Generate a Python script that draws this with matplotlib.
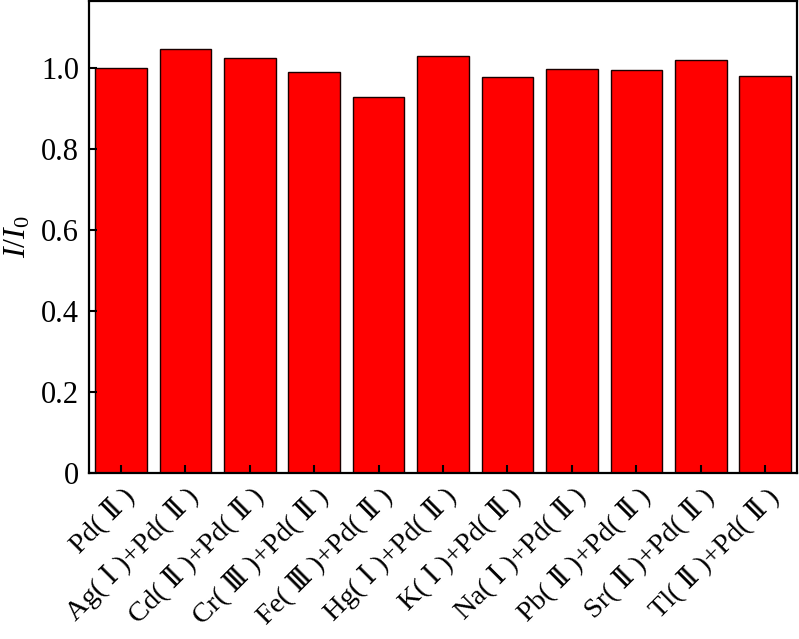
import matplotlib
matplotlib.use("Agg")
import matplotlib.pyplot as plt

labels = ["Pd( Ⅱ )", "Ag( Ⅰ )+Pd( Ⅱ )", "Cd( Ⅱ )+Pd( Ⅱ )", "Cr( Ⅲ )+Pd( Ⅱ )",
          "Fe( Ⅲ )+Pd( Ⅱ )", "Hg( Ⅰ )+Pd( Ⅱ )", "K( Ⅰ )+Pd( Ⅱ )", "Na( Ⅰ )+Pd( Ⅱ )",
          "Pb( Ⅱ )+Pd( Ⅱ )", "Sr( Ⅱ )+Pd( Ⅱ )", "Tl( Ⅱ )+Pd( Ⅱ )"]
ratios = [1.000, 1.047, 1.026, 0.990, 0.928, 1.030, 0.977, 0.998, 0.995, 1.019, 0.981]
yticks = [0, 0.2, 0.4, 0.6, 0.8, 1.0]
ytick_labels = ["0", "0.2", "0.4", "0.6", "0.8", "1.0"]

plt.rcParams["font.family"] = ["Liberation Serif", "DejaVu Serif"]
plt.rcParams["mathtext.fontset"] = "custom"
plt.rcParams["mathtext.rm"] = "Liberation Serif"
plt.rcParams["mathtext.it"] = "Liberation Serif:italic"

fig = plt.figure(figsize=(7.99, 6.39), dpi=100)
ax = fig.add_axes([0.111, 0.26, 0.887, 0.738])

x = list(range(len(labels)))
ax.bar(x, ratios, width=0.8, color="#ff0000", edgecolor="#1a0000", linewidth=1.0)

ax.set_xlim(-0.5, len(labels) - 0.5)
ax.set_ylim(0, 1.165)
ax.set_yticks(yticks)
ax.set_yticklabels(ytick_labels, fontsize=22)
ax.set_xticks(x)
ax.set_xticklabels(labels, fontsize=20.5, rotation=45, ha="right", rotation_mode="anchor")
ax.tick_params(axis="both", direction="in", length=6, width=1.5, top=False, right=False)
ax.tick_params(axis="x", pad=7)
ax.tick_params(axis="y", pad=7)
for s in ax.spines.values():
    s.set_linewidth(1.6)
ax.set_ylabel("$I/I_0$", fontsize=23, labelpad=6)

fig.savefig("out.png", dpi=100)
